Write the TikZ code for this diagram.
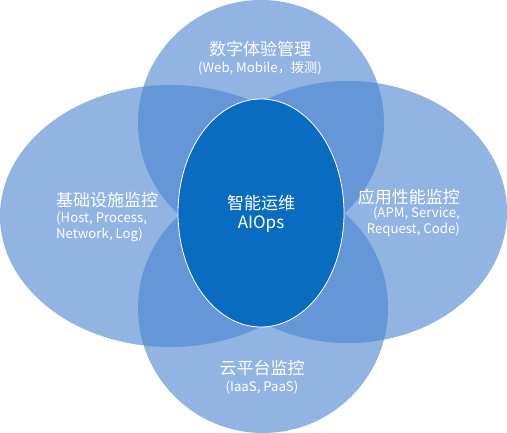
\documentclass[tikz,border=0pt]{standalone}
\usepackage{fontspec}
\setmainfont{Noto Sans CJK SC}
\definecolor{petal}{RGB}{72,130,208}
\definecolor{core}{RGB}{10,108,193}
\begin{document}
\begin{tikzpicture}[x=1pt,y=-1pt,
  petalshape/.style={fill=petal,fill opacity=0.6,draw=none},
  title/.style={text=white,inner sep=0pt,font=\fontsize{17}{20}\selectfont},
  sub/.style={text=white,inner sep=0pt,font=\fontsize{13.2}{16}\selectfont}]
\useasboundingbox (0,0) rectangle (507,433);
% petals
\fill[petalshape] (170,216) ellipse [x radius=170, y radius=131];
\fill[petalshape] (348,212) ellipse [x radius=159, y radius=131];
\fill[petalshape] (261,123) circle [radius=123];
\fill[petalshape] (263,308) circle [radius=125];
% core
\draw[fill=core,draw=white,line width=0.8pt] (261,213) ellipse [x radius=83, y radius=114];
% labels
\node[title] (toptitle) at (260,49) {数字体验管理};
\node[sub] (topsub) at (260,68) {(Web, Mobile，拨测)};
\node[title,anchor=west] (lefttitle) at (56,200) {基础设施监控};
\node[sub,anchor=west,align=left] (leftsub) at (56,227) {(Host, Process,\\Network, Log)};
\node[title,anchor=east] (righttitle) at (460,197) {应用性能监控};
\node[sub,anchor=east,align=right] (rightsub) at (460,222) {(APM, Service,\\Request, Code)};
\node[title] (bottitle) at (262,368) {云平台监控};
\node[sub] (botsub) at (262,387) {(IaaS, PaaS)};
\node[title] (coretitle) at (261,203) {智能运维};
\node[title] (coresub) at (261,224) {AIOps};
\end{tikzpicture}
\end{document}
